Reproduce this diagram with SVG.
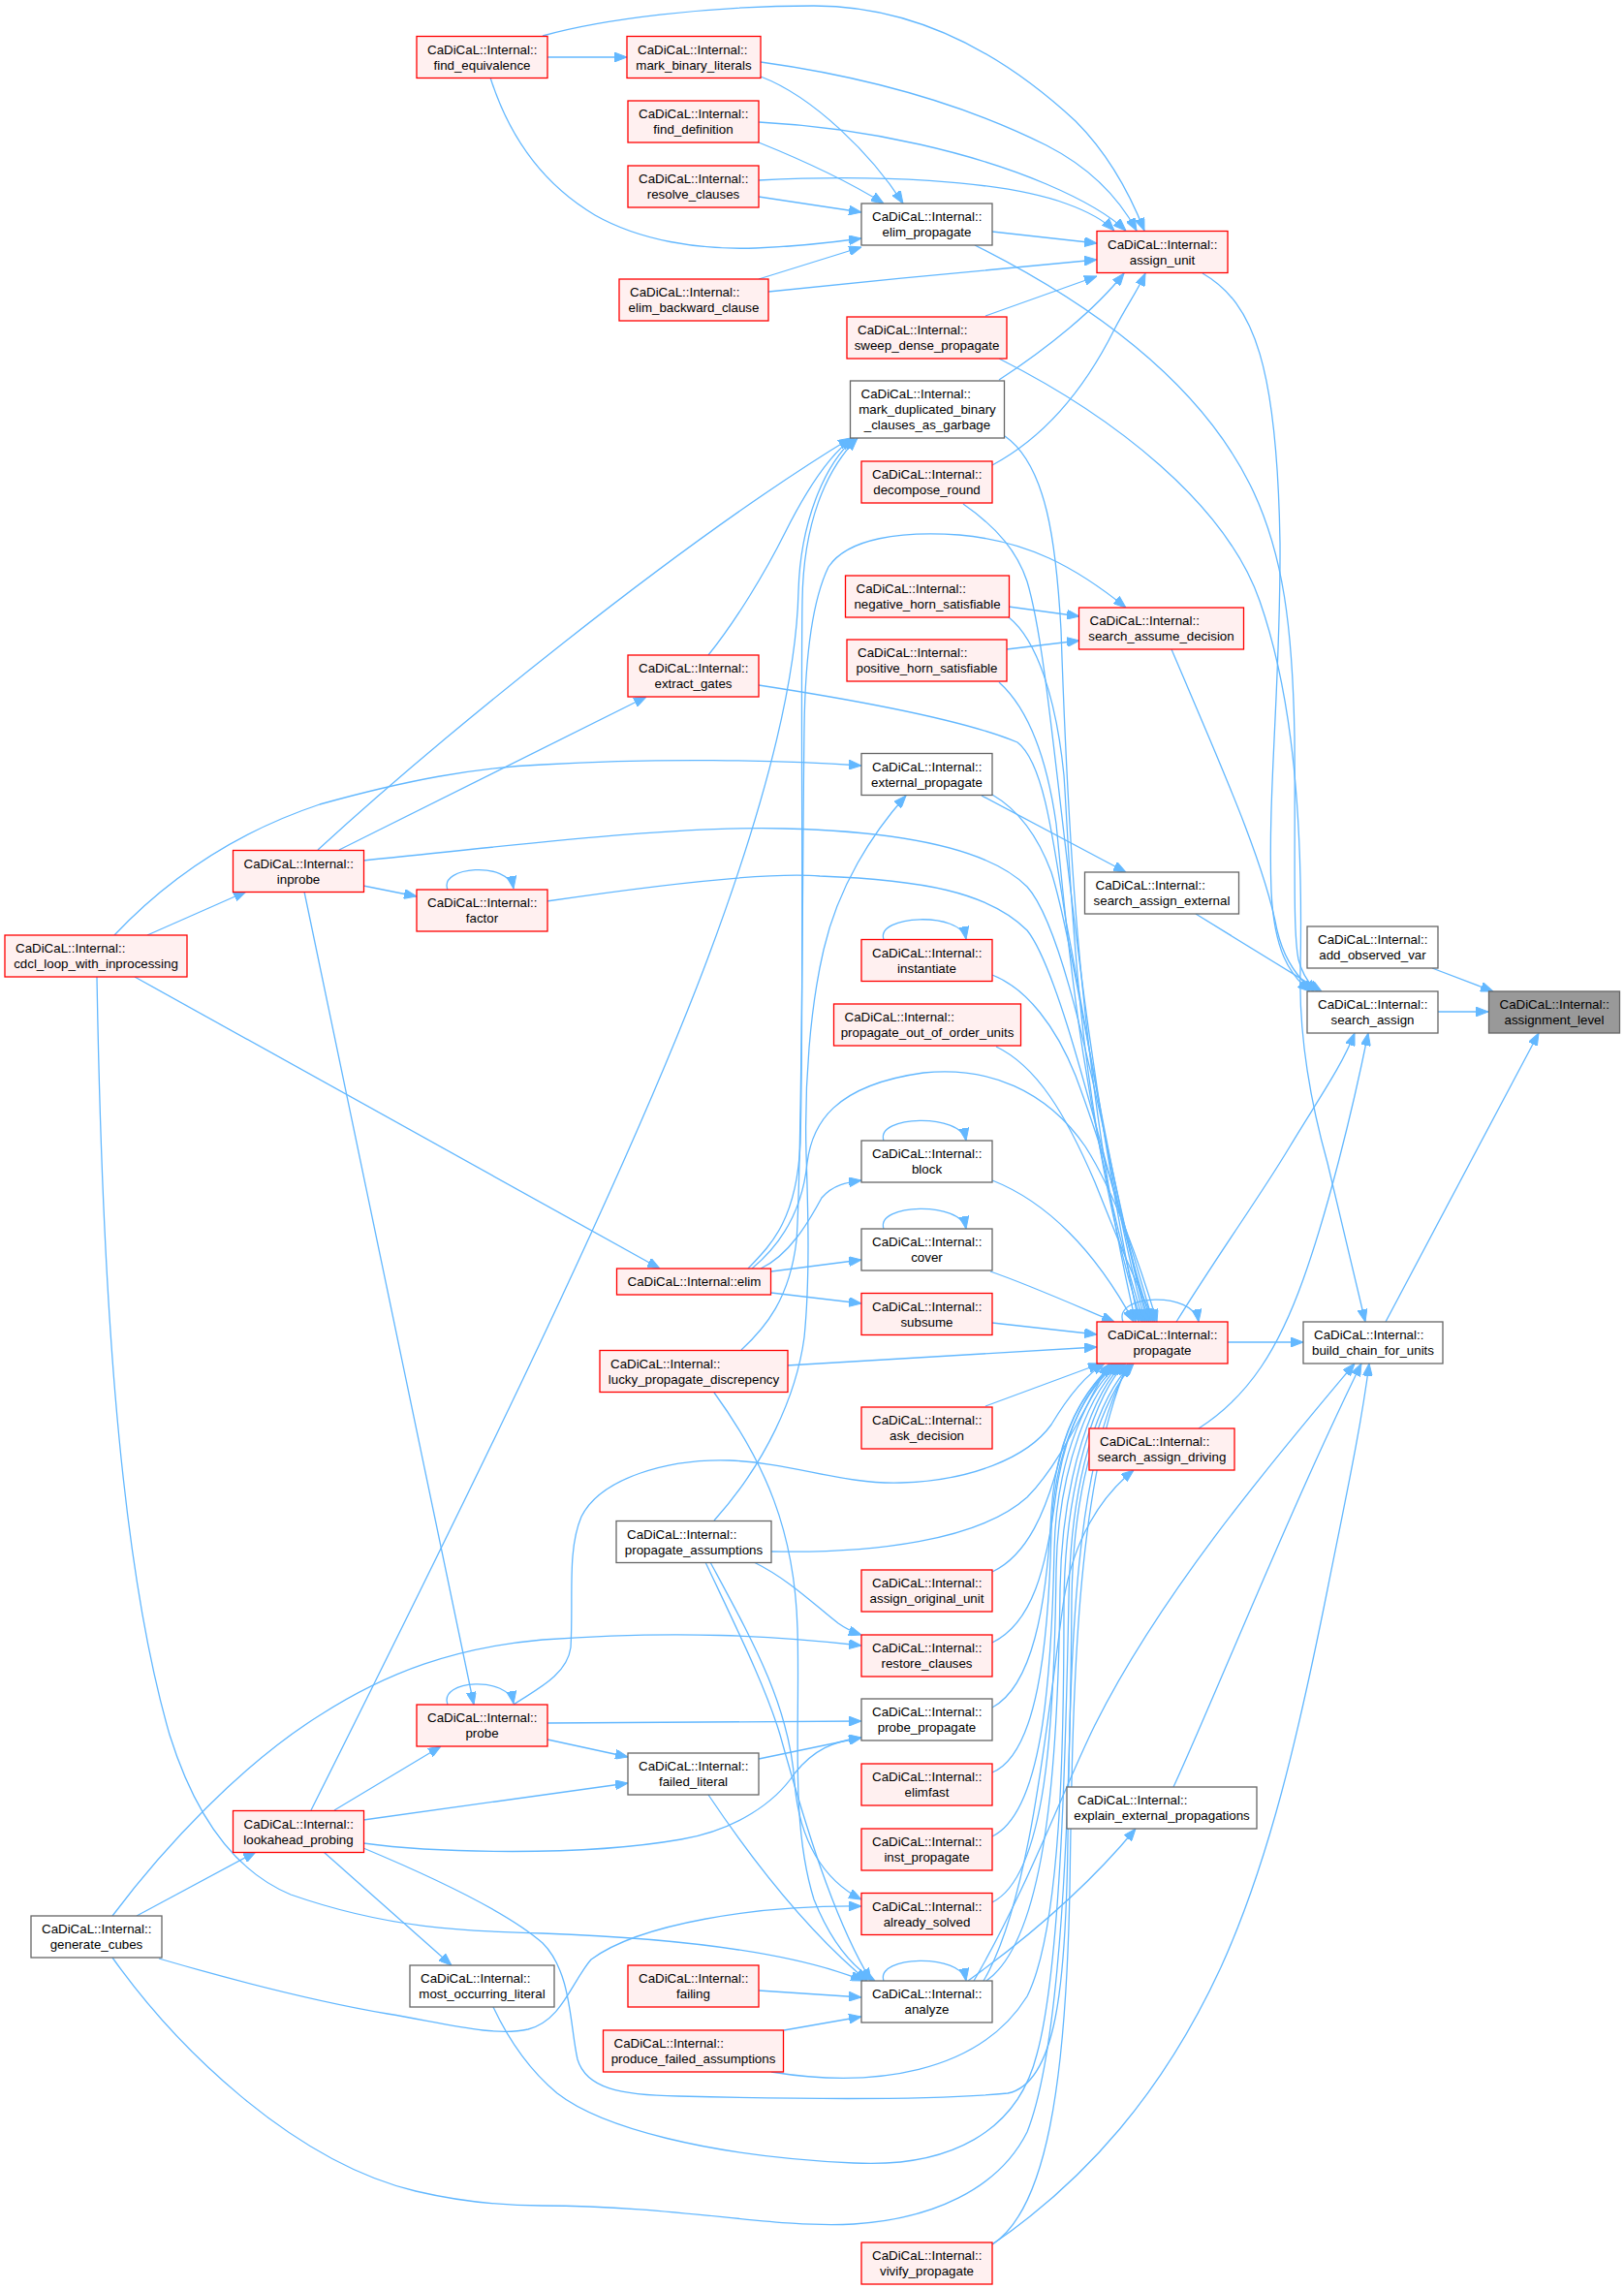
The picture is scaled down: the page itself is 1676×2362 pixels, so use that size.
<svg xmlns="http://www.w3.org/2000/svg" width="1676" height="2362" viewBox="0 0 1676 2362">
<defs>
<marker id="a" markerWidth="13" markerHeight="10" refX="13" refY="5" orient="auto" markerUnits="userSpaceOnUse"><path d="M0,0 L13,5 L0,10 z" fill="#63b8ff" stroke="#63b8ff" stroke-width="1"/></marker>
<style>
.e{fill:none;stroke:#63b8ff;stroke-width:1.3;marker-end:url(#a)}
.r rect{fill:#fff0f0;stroke:#ff0000;stroke-width:1.3}
.g rect{fill:#ffffff;stroke:#666666;stroke-width:1.3}
.d rect{fill:#999999;stroke:#666666;stroke-width:1.3}
text{font-family:"Liberation Sans",Arial,Helvetica,sans-serif;font-size:13.33px;fill:#000000}
.m{text-anchor:middle}
</style>
</defs>
<rect x="0" y="0" width="1676" height="2362" fill="#ffffff"/>
<g id="edges">
<path class="e" d="M565,59 L647,59"/>
<path class="e" d="M560,37 C620,20 730,6 840,6 C950,6 1040,60 1110,125 C1145,160 1166,200 1181,238"/>
<path class="e" d="M785,64 C900,80 1000,110 1080,150 C1125,173 1155,205 1173,238"/>
<path class="e" d="M783,126 C900,132 1010,160 1080,190 C1115,205 1145,222 1162,238"/>
<path class="e" d="M783,186 C900,180 1030,185 1100,210 C1125,219 1140,228 1150,238"/>
<path class="e" d="M785,79 C840,100 900,160 932,210"/>
<path class="e" d="M783,147 C840,170 880,190 912,210"/>
<path class="e" d="M783,203 L889,219"/>
<path class="e" d="M506,80 C525,140 560,190 614,222 C660,248 720,258 780,256 C830,254 860,250 889,246"/>
<path class="e" d="M783,288 L889,255"/>
<path class="e" d="M1024,239 L1132,251"/>
<path class="e" d="M793,301 C900,290 1050,275 1132,268"/>
<path class="e" d="M1017,326 L1132,285"/>
<path class="e" d="M1031,392 C1080,360 1130,320 1160,282"/>
<path class="e" d="M1024,480 C1080,450 1120,400 1150,340 C1163,315 1174,300 1182,282"/>
<path class="e" d="M1241,282 C1295,313 1318,380 1321,560 C1322,700 1308,820 1312,920 C1315,980 1330,1005 1352,1023"/>
<path class="e" d="M1006,253 C1100,300 1230,380 1290,500 C1325,570 1334,650 1336,760 C1337,880 1334,960 1340,990 C1344,1005 1350,1015 1360,1023"/>
<path class="e" d="M1031,370 C1150,430 1265,520 1300,620 C1335,720 1345,850 1342,1000 C1340,1080 1356,1150 1370,1200 L1409,1364"/>
<path class="e" d="M1209,670 C1260,790 1305,890 1318,960 C1325,990 1340,1010 1356,1023"/>
<path class="e" d="M1234,943 L1364,1023"/>
<path class="e" d="M1478,999 L1541,1023"/>
<path class="e" d="M1484,1044 L1536,1044"/>
<path class="e" d="M1430,1364 L1588,1066"/>
<path class="e" d="M1214,1364 C1260,1290 1300,1235 1330,1185 C1360,1135 1385,1100 1398,1066"/>
<path class="e" d="M1237,1474 C1290,1440 1320,1390 1345,1320 C1370,1250 1395,1150 1412,1066"/>
<path class="e" d="M1267,1385 L1345,1385"/>
<path class="e" d="M1005,2044 C1060,1950 1100,1840 1130,1780 C1200,1640 1320,1500 1398,1407"/>
<path class="e" d="M1211,1844 C1250,1760 1330,1560 1405,1407"/>
<path class="e" d="M1024,2316 C1120,2250 1200,2160 1260,2030 C1310,1920 1340,1790 1370,1640 C1390,1540 1405,1470 1413,1407"/>
<path class="e" d="M999,2044 C1060,2000 1120,1950 1172,1887"/>
<path class="e" d="M1015,2044 C1065,1960 1082,1760 1098,1650 C1108,1590 1135,1545 1170,1517"/>
<path class="e" d="M1041,626 L1114,636"/>
<path class="e" d="M1039,670 L1114,661"/>
<path class="e" d="M765,1393 C790,1370 815,1340 822,1280 C828,1200 828,900 830,750 C831,680 838,620 855,585 C875,555 930,548 990,552 C1060,558 1110,585 1162,627"/>
<path class="e" d="M1013,821 L1162,900"/>
<path class="e" d="M118,965 C170,910 240,860 330,830 C420,805 490,792 560,789 C680,782 800,784 889,790"/>
<path class="e" d="M737,1569 C790,1510 822,1440 830,1380 C836,1320 834,1250 832,1190 C830,1120 836,1040 850,980 C865,915 900,860 935,821"/>
<path class="e" d="M152,965 L254,920"/>
<path class="e" d="M139,1008 L681,1309"/>
<path class="e" d="M100,1008 C105,1300 120,1600 175,1790 C200,1870 240,1930 300,1955 C400,1990 480,1993 560,1995 C700,2000 820,2015 891,2044"/>
<path class="e" d="M375,914 L430,925"/>
<path class="e" d="M350,877 L667,719"/>
<path class="e" d="M328,877 C450,765 700,560 878,452"/>
<path class="e" d="M375,888 C550,870 700,852 810,855 C930,858 1020,875 1060,915 C1110,970 1150,1250 1186,1364"/>
<path class="e" d="M314,920 L489,1759"/>
<path class="e" d="M462,918 C452,894 525,888 530,917"/>
<path class="e" d="M564,930 C700,910 800,900 846,904 C950,908 1020,920 1060,960 C1100,1010 1150,1250 1188,1364"/>
<path class="e" d="M731,676 C760,640 790,590 810,550 C830,510 855,470 880,452"/>
<path class="e" d="M783,707 C900,725 1000,745 1050,766 C1075,785 1085,850 1100,950 C1120,1050 1150,1250 1182,1364"/>
<path class="e" d="M321,1868 C450,1610 640,1230 730,990 C790,830 822,700 824,610 C826,540 850,480 882,452"/>
<path class="e" d="M772,1309 C795,1285 822,1260 826,1180 C830,1000 826,750 828,620 C829,540 852,485 885,452"/>
<path class="e" d="M1037,450 C1080,480 1090,560 1095,650 C1100,800 1110,1100 1172,1364"/>
<path class="e" d="M994,520 C1030,545 1050,570 1060,600 C1090,700 1100,1000 1175,1364"/>
<path class="e" d="M1041,637 C1070,660 1090,720 1098,800 C1105,900 1110,1150 1178,1364"/>
<path class="e" d="M1031,704 C1060,730 1080,780 1090,850 C1100,950 1115,1150 1180,1364"/>
<path class="e" d="M1024,820 C1050,835 1070,860 1085,900 C1110,980 1140,1200 1184,1364"/>
<path class="e" d="M912,969.5 C903,944 992,940 997,969"/>
<path class="e" d="M1024,1006 C1060,1020 1090,1060 1110,1110 C1140,1190 1165,1280 1190,1364"/>
<path class="e" d="M1028,1080 C1070,1100 1100,1150 1130,1220 C1150,1270 1170,1320 1192,1364"/>
<path class="e" d="M912,1177 C903,1151 992,1148 997,1177"/>
<path class="e" d="M1024,1218 C1080,1240 1130,1290 1170,1364"/>
<path class="e" d="M912,1268 C903,1242 992,1239 997,1268"/>
<path class="e" d="M1022,1312 C1060,1325 1105,1345 1150,1364"/>
<path class="e" d="M785,1309 C815,1295 835,1260 848,1236 C860,1222 875,1220 889,1218"/>
<path class="e" d="M796,1312 L889,1300"/>
<path class="e" d="M796,1334 L889,1345"/>
<path class="e" d="M776,1309 C805,1285 828,1250 833,1200 C838,1160 860,1120 953,1107 C1020,1100 1080,1125 1120,1183 C1150,1230 1175,1300 1194,1364"/>
<path class="e" d="M1024,1365 L1132,1377"/>
<path class="e" d="M812,1409 L1132,1390"/>
<path class="e" d="M1017,1451 L1136,1407"/>
<path class="e" d="M1159,1364 C1148,1335 1232,1332 1237,1364"/>
<path class="e" d="M796,1601 C900,1603 1010,1590 1060,1545 C1095,1510 1120,1450 1145,1407"/>
<path class="e" d="M1024,1622 C1060,1605 1080,1560 1095,1500 C1105,1460 1125,1430 1148,1407"/>
<path class="e" d="M1024,1695 C1065,1675 1080,1620 1090,1540 C1100,1470 1125,1430 1150,1407"/>
<path class="e" d="M1024,1762 C1065,1740 1080,1660 1085,1560 C1090,1480 1120,1430 1152,1407"/>
<path class="e" d="M1024,1829 C1070,1810 1082,1700 1085,1580 C1088,1490 1122,1430 1154,1407"/>
<path class="e" d="M1024,1895 C1075,1870 1085,1740 1088,1600 C1090,1500 1125,1430 1156,1407"/>
<path class="e" d="M1024,1963 C1080,1935 1088,1780 1090,1620 C1092,1510 1128,1430 1158,1407"/>
<path class="e" d="M1018,2044 C1080,2000 1092,1820 1094,1640 C1096,1520 1130,1432 1160,1407"/>
<path class="e" d="M796,2138 C900,2155 1010,2140 1060,2060 C1095,1990 1098,1800 1098,1660 C1098,1530 1132,1434 1162,1407"/>
<path class="e" d="M1024,2316 C1080,2280 1100,2150 1104,1950 C1107,1750 1110,1530 1164,1407"/>
<path class="e" d="M375,1907 C430,1930 520,1970 560,2005 C590,2035 588,2090 596,2125 C605,2155 640,2162 700,2163 C820,2166 960,2168 1040,2160 C1090,2150 1100,2050 1102,1900 C1104,1700 1110,1500 1166,1407"/>
<path class="e" d="M509,2071 C525,2105 545,2135 575,2160 C620,2195 730,2225 881,2232 C980,2237 1050,2200 1070,2120 C1095,2030 1100,1800 1103,1650 C1105,1520 1135,1440 1168,1407"/>
<path class="e" d="M116,2020 C180,2110 300,2230 429,2261 C480,2273 520,2276 560,2276 C700,2276 800,2300 881,2295 C960,2290 1030,2260 1060,2200 C1100,2100 1105,1800 1106,1650 C1108,1520 1140,1440 1170,1407"/>
<path class="e" d="M530,1759 C550,1745 585,1730 589,1700 C592,1650 585,1600 600,1565 C620,1525 690,1505 753,1507 C820,1510 870,1532 930,1530 C1000,1528 1060,1505 1085,1470 C1100,1445 1118,1420 1140,1407"/>
<path class="e" d="M462,1759 C452,1733 525,1729 530,1758"/>
<path class="e" d="M345,1868 L455,1802"/>
<path class="e" d="M375,1878 L648,1840"/>
<path class="e" d="M375,1902 C450,1912 600,1916 703,1898 C760,1888 800,1860 820,1830 C840,1805 860,1797 889,1793"/>
<path class="e" d="M334,1911 L466,2028"/>
<path class="e" d="M565,1795 L648,1813"/>
<path class="e" d="M565,1778 L889,1776"/>
<path class="e" d="M783,1815 L889,1793"/>
<path class="e" d="M731,1852 C770,1910 830,1990 895,2044"/>
<path class="e" d="M116,1977 C170,1905 250,1820 330,1770 C400,1725 470,1700 560,1692 C700,1682 800,1688 889,1698"/>
<path class="e" d="M141,1977 L264,1911"/>
<path class="e" d="M164,2021 C250,2046 330,2066 400,2078 C460,2088 510,2102 545,2094 C580,2085 590,2045 610,2022 C660,1985 780,1966 889,1967"/>
<path class="e" d="M778,1612 C815,1630 845,1660 865,1675 C872,1680 880,1684 889,1687"/>
<path class="e" d="M728,1612 C760,1680 790,1740 805,1790 C830,1880 860,1980 899,2044"/>
<path class="e" d="M733,1612 C775,1690 815,1760 820,1840 C825,1900 850,1940 889,1960"/>
<path class="e" d="M737,1437 C790,1510 820,1580 823,1680 C826,1780 815,1880 840,1960 C858,2005 880,2030 903,2044"/>
<path class="e" d="M783,2054 L889,2061"/>
<path class="e" d="M809,2095 L889,2081"/>
<path class="e" d="M912,2044 C903,2018 992,2015 997,2044"/>
</g>
<g id="n_find_equivalence" class="r"><rect x="430" y="37.5" width="135" height="43"/><text x="441" y="55.5">CaDiCaL::Internal::</text><text class="m" x="497.5" y="71.5">find_equivalence</text></g>
<g id="n_mark_binary_literals" class="r"><rect x="647" y="37.5" width="138" height="43"/><text x="658" y="55.5">CaDiCaL::Internal::</text><text class="m" x="716" y="71.5">mark_binary_literals</text></g>
<g id="n_find_definition" class="r"><rect x="648" y="104" width="135" height="43"/><text x="659" y="122">CaDiCaL::Internal::</text><text class="m" x="715.5" y="138">find_definition</text></g>
<g id="n_resolve_clauses" class="r"><rect x="648" y="171" width="135" height="43"/><text x="659" y="189">CaDiCaL::Internal::</text><text class="m" x="715.5" y="205">resolve_clauses</text></g>
<g id="n_elim_propagate" class="g"><rect x="889" y="210" width="135" height="43"/><text x="900" y="228">CaDiCaL::Internal::</text><text class="m" x="956.5" y="244">elim_propagate</text></g>
<g id="n_elim_backward_clause" class="r"><rect x="639" y="288" width="154" height="43"/><text x="650" y="306">CaDiCaL::Internal::</text><text class="m" x="716" y="322">elim_backward_clause</text></g>
<g id="n_sweep_dense_propagate" class="r"><rect x="874" y="327" width="165" height="43"/><text x="885" y="345">CaDiCaL::Internal::</text><text class="m" x="956.5" y="361">sweep_dense_propagate</text></g>
<g id="n_assign_unit" class="r"><rect x="1132" y="238.5" width="135" height="43"/><text x="1143" y="256.5">CaDiCaL::Internal::</text><text class="m" x="1199.5" y="272.5">assign_unit</text></g>
<g id="n_mark_duplicated_binary_clauses_as_garbage" class="g"><rect x="877.5" y="393" width="159" height="59"/><text x="888.5" y="411">CaDiCaL::Internal::</text><text class="m" x="957" y="427">mark_duplicated_binary</text><text class="m" x="957" y="443">_clauses_as_garbage</text></g>
<g id="n_decompose_round" class="r"><rect x="889" y="476" width="135" height="43"/><text x="900" y="494">CaDiCaL::Internal::</text><text class="m" x="956.5" y="510">decompose_round</text></g>
<g id="n_negative_horn_satisfiable" class="r"><rect x="872.5" y="594" width="169" height="43"/><text x="883.5" y="612">CaDiCaL::Internal::</text><text class="m" x="957" y="628">negative_horn_satisfiable</text></g>
<g id="n_search_assume_decision" class="r"><rect x="1113.5" y="627" width="170" height="43"/><text x="1124.5" y="645">CaDiCaL::Internal::</text><text class="m" x="1198.5" y="661">search_assume_decision</text></g>
<g id="n_positive_horn_satisfiable" class="r"><rect x="874" y="660" width="165" height="43"/><text x="885" y="678">CaDiCaL::Internal::</text><text class="m" x="956.5" y="694">positive_horn_satisfiable</text></g>
<g id="n_extract_gates" class="r"><rect x="648" y="676" width="135" height="43"/><text x="659" y="694">CaDiCaL::Internal::</text><text class="m" x="715.5" y="710">extract_gates</text></g>
<g id="n_external_propagate" class="g"><rect x="889" y="777.5" width="135" height="43"/><text x="900" y="795.5">CaDiCaL::Internal::</text><text class="m" x="956.5" y="811.5">external_propagate</text></g>
<g id="n_inprobe" class="r"><rect x="240.5" y="877.5" width="135" height="43"/><text x="251.5" y="895.5">CaDiCaL::Internal::</text><text class="m" x="308" y="911.5">inprobe</text></g>
<g id="n_search_assign_external" class="g"><rect x="1119.5" y="900" width="159" height="43"/><text x="1130.5" y="918">CaDiCaL::Internal::</text><text class="m" x="1199" y="934">search_assign_external</text></g>
<g id="n_factor" class="r"><rect x="430" y="918" width="135" height="43"/><text x="441" y="936">CaDiCaL::Internal::</text><text class="m" x="497.5" y="952">factor</text></g>
<g id="n_add_observed_var" class="g"><rect x="1349" y="956" width="135" height="43"/><text x="1360" y="974">CaDiCaL::Internal::</text><text class="m" x="1416.5" y="990">add_observed_var</text></g>
<g id="n_cdcl_loop_with_inprocessing" class="r"><rect x="5" y="965" width="188" height="43"/><text x="16" y="983">CaDiCaL::Internal::</text><text class="m" x="99" y="999">cdcl_loop_with_inprocessing</text></g>
<g id="n_instantiate" class="r"><rect x="889" y="969.5" width="135" height="43"/><text x="900" y="987.5">CaDiCaL::Internal::</text><text class="m" x="956.5" y="1003.5">instantiate</text></g>
<g id="n_search_assign" class="g"><rect x="1349" y="1023" width="135" height="43"/><text x="1360" y="1041">CaDiCaL::Internal::</text><text class="m" x="1416.5" y="1057">search_assign</text></g>
<g id="n_assignment_level" class="d"><rect x="1536.5" y="1023" width="135" height="43"/><text x="1547.5" y="1041">CaDiCaL::Internal::</text><text class="m" x="1604" y="1057">assignment_level</text></g>
<g id="n_propagate_out_of_order_units" class="r"><rect x="860.5" y="1036" width="193" height="43"/><text x="871.5" y="1054">CaDiCaL::Internal::</text><text class="m" x="957" y="1070">propagate_out_of_order_units</text></g>
<g id="n_block" class="g"><rect x="889" y="1177" width="135" height="43"/><text x="900" y="1195">CaDiCaL::Internal::</text><text class="m" x="956.5" y="1211">block</text></g>
<g id="n_cover" class="g"><rect x="889" y="1268" width="135" height="43"/><text x="900" y="1286">CaDiCaL::Internal::</text><text class="m" x="956.5" y="1302">cover</text></g>
<g id="n_elim" class="r"><rect x="636.5" y="1309" width="159" height="27"/><text x="647.5" y="1327">CaDiCaL::Internal::elim</text></g>
<g id="n_subsume" class="r"><rect x="889" y="1334.5" width="135" height="43"/><text x="900" y="1352.5">CaDiCaL::Internal::</text><text class="m" x="956.5" y="1368.5">subsume</text></g>
<g id="n_propagate" class="r"><rect x="1132" y="1364" width="135" height="43"/><text x="1143" y="1382">CaDiCaL::Internal::</text><text class="m" x="1199.5" y="1398">propagate</text></g>
<g id="n_build_chain_for_units" class="g"><rect x="1345" y="1364" width="144" height="43"/><text x="1356" y="1382">CaDiCaL::Internal::</text><text class="m" x="1417" y="1398">build_chain_for_units</text></g>
<g id="n_lucky_propagate_discrepency" class="r"><rect x="619" y="1393.5" width="194" height="43"/><text x="630" y="1411.5">CaDiCaL::Internal::</text><text class="m" x="716" y="1427.5">lucky_propagate_discrepency</text></g>
<g id="n_ask_decision" class="r"><rect x="889" y="1452" width="135" height="43"/><text x="900" y="1470">CaDiCaL::Internal::</text><text class="m" x="956.5" y="1486">ask_decision</text></g>
<g id="n_search_assign_driving" class="r"><rect x="1124" y="1474" width="150" height="43"/><text x="1135" y="1492">CaDiCaL::Internal::</text><text class="m" x="1199" y="1508">search_assign_driving</text></g>
<g id="n_propagate_assumptions" class="g"><rect x="636" y="1569.5" width="160" height="43"/><text x="647" y="1587.5">CaDiCaL::Internal::</text><text class="m" x="716" y="1603.5">propagate_assumptions</text></g>
<g id="n_assign_original_unit" class="r"><rect x="889" y="1620" width="135" height="43"/><text x="900" y="1638">CaDiCaL::Internal::</text><text class="m" x="956.5" y="1654">assign_original_unit</text></g>
<g id="n_restore_clauses" class="r"><rect x="889" y="1687" width="135" height="43"/><text x="900" y="1705">CaDiCaL::Internal::</text><text class="m" x="956.5" y="1721">restore_clauses</text></g>
<g id="n_probe_propagate" class="g"><rect x="889" y="1753" width="135" height="43"/><text x="900" y="1771">CaDiCaL::Internal::</text><text class="m" x="956.5" y="1787">probe_propagate</text></g>
<g id="n_probe" class="r"><rect x="430" y="1759" width="135" height="43"/><text x="441" y="1777">CaDiCaL::Internal::</text><text class="m" x="497.5" y="1793">probe</text></g>
<g id="n_failed_literal" class="g"><rect x="648" y="1809" width="135" height="43"/><text x="659" y="1827">CaDiCaL::Internal::</text><text class="m" x="715.5" y="1843">failed_literal</text></g>
<g id="n_elimfast" class="r"><rect x="889" y="1820" width="135" height="43"/><text x="900" y="1838">CaDiCaL::Internal::</text><text class="m" x="956.5" y="1854">elimfast</text></g>
<g id="n_explain_external_propagations" class="g"><rect x="1101" y="1844" width="196" height="43"/><text x="1112" y="1862">CaDiCaL::Internal::</text><text class="m" x="1199" y="1878">explain_external_propagations</text></g>
<g id="n_lookahead_probing" class="r"><rect x="240.5" y="1868.5" width="135" height="43"/><text x="251.5" y="1886.5">CaDiCaL::Internal::</text><text class="m" x="308" y="1902.5">lookahead_probing</text></g>
<g id="n_inst_propagate" class="r"><rect x="889" y="1887" width="135" height="43"/><text x="900" y="1905">CaDiCaL::Internal::</text><text class="m" x="956.5" y="1921">inst_propagate</text></g>
<g id="n_already_solved" class="r"><rect x="889" y="1953.5" width="135" height="43"/><text x="900" y="1971.5">CaDiCaL::Internal::</text><text class="m" x="956.5" y="1987.5">already_solved</text></g>
<g id="n_generate_cubes" class="g"><rect x="32" y="1977" width="135" height="43"/><text x="43" y="1995">CaDiCaL::Internal::</text><text class="m" x="99.5" y="2011">generate_cubes</text></g>
<g id="n_failing" class="r"><rect x="648" y="2028" width="135" height="43"/><text x="659" y="2046">CaDiCaL::Internal::</text><text class="m" x="715.5" y="2062">failing</text></g>
<g id="n_most_occurring_literal" class="g"><rect x="423" y="2028" width="149" height="43"/><text x="434" y="2046">CaDiCaL::Internal::</text><text class="m" x="497.5" y="2062">most_occurring_literal</text></g>
<g id="n_analyze" class="g"><rect x="889" y="2044" width="135" height="43"/><text x="900" y="2062">CaDiCaL::Internal::</text><text class="m" x="956.5" y="2078">analyze</text></g>
<g id="n_produce_failed_assumptions" class="r"><rect x="622.5" y="2095" width="186" height="43"/><text x="633.5" y="2113">CaDiCaL::Internal::</text><text class="m" x="715.5" y="2129">produce_failed_assumptions</text></g>
<g id="n_vivify_propagate" class="r"><rect x="889" y="2314" width="135" height="43"/><text x="900" y="2332">CaDiCaL::Internal::</text><text class="m" x="956.5" y="2348">vivify_propagate</text></g>
</svg>
